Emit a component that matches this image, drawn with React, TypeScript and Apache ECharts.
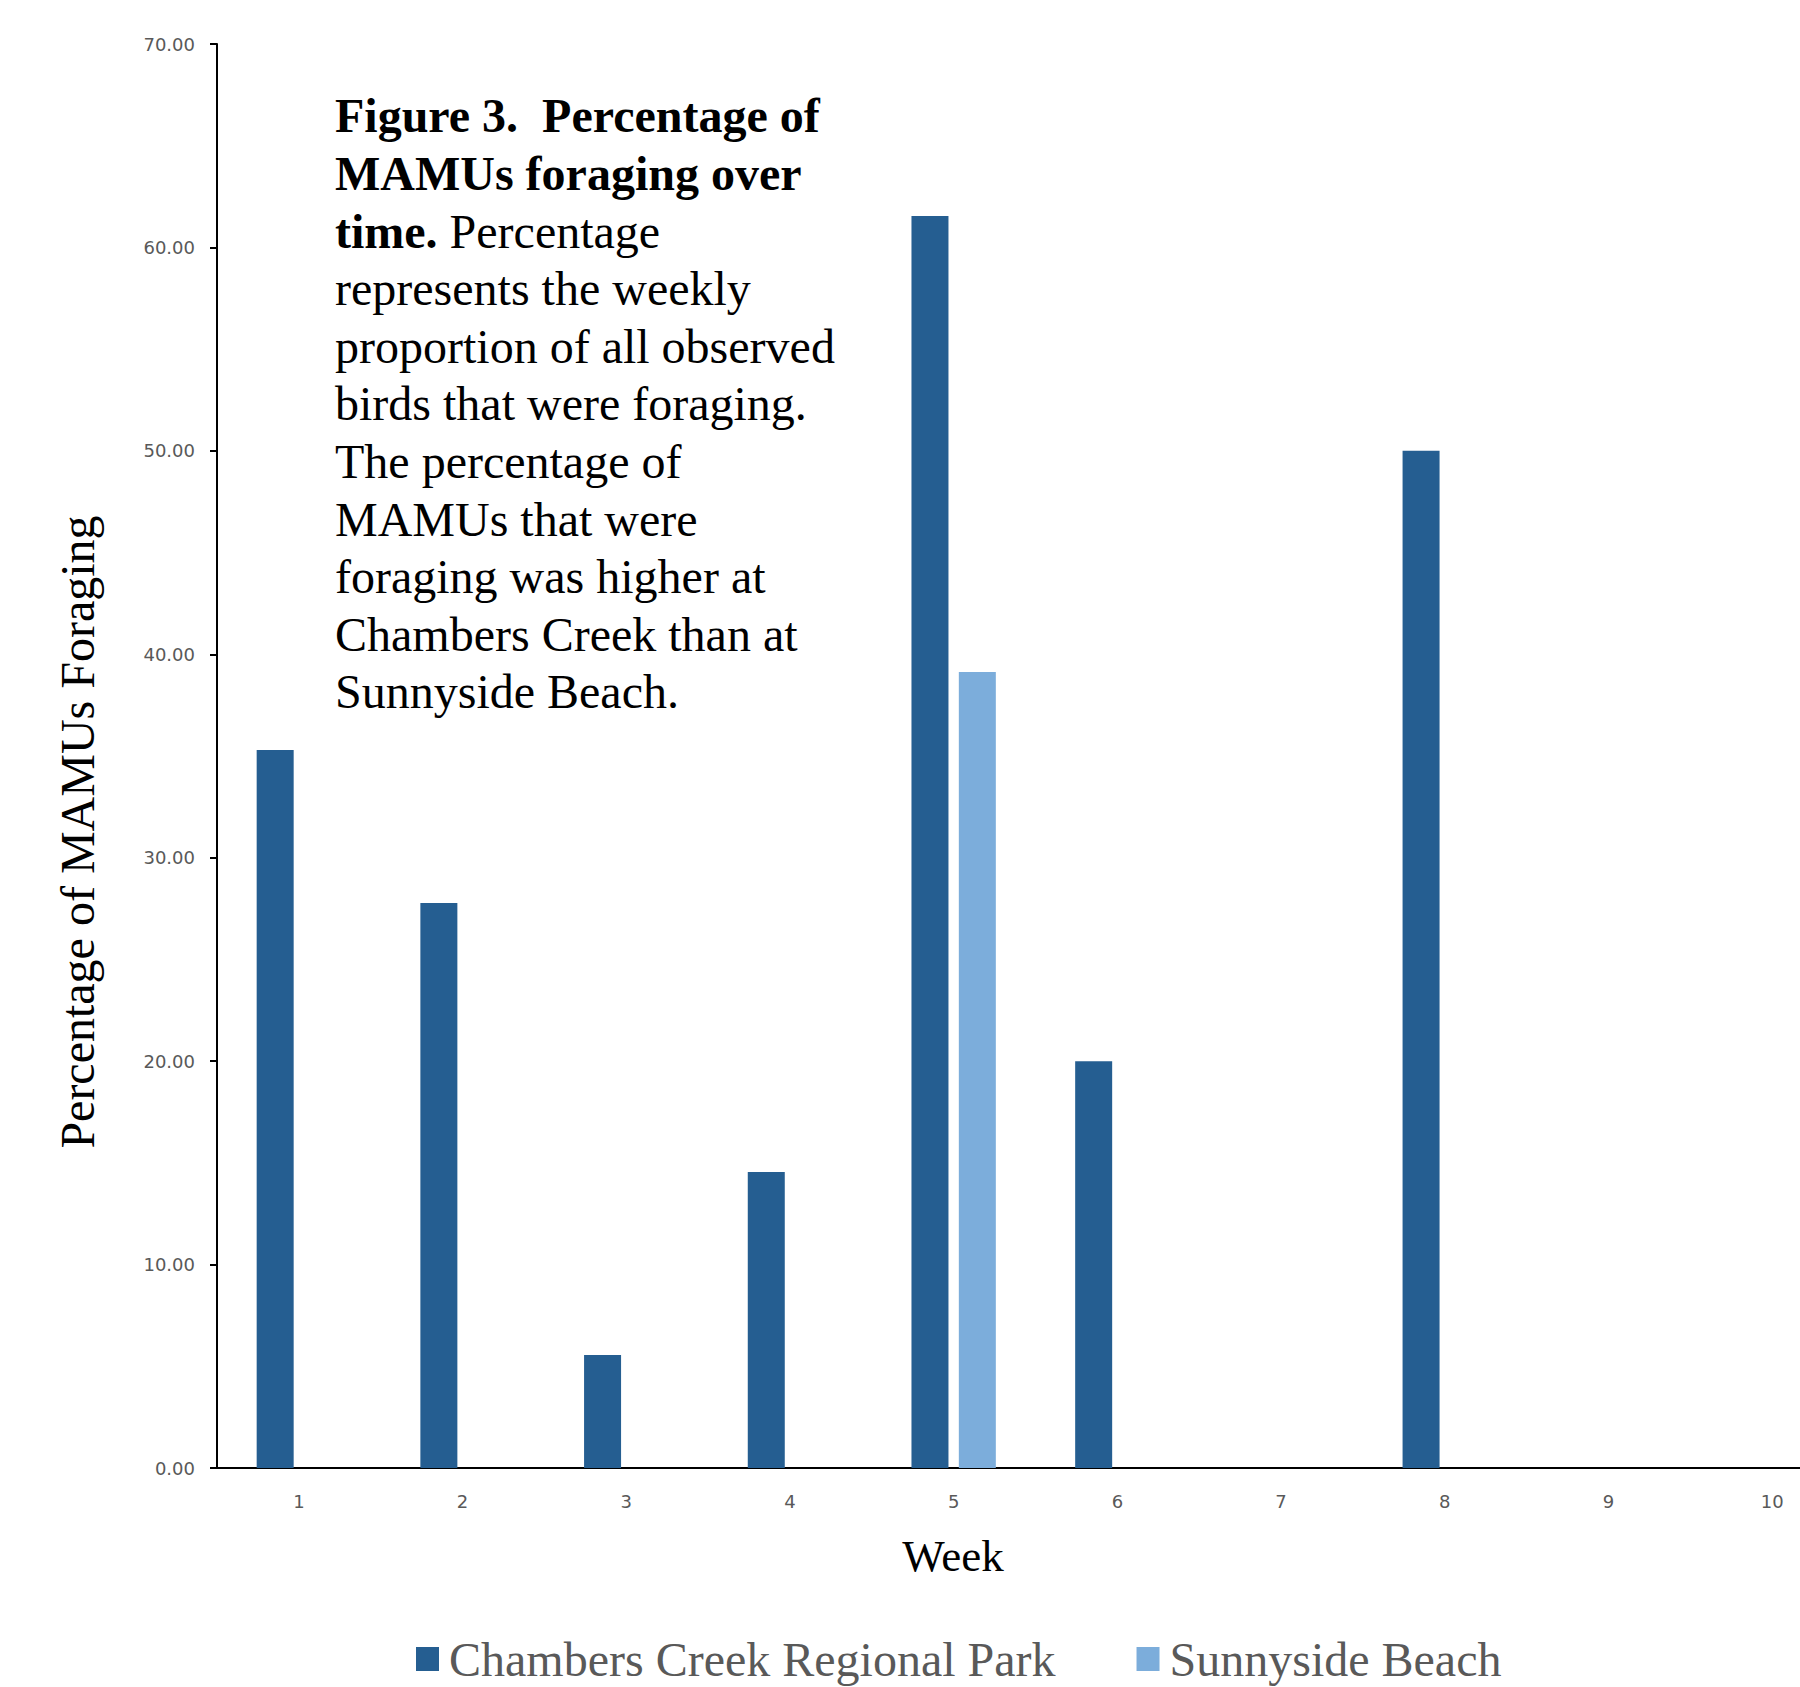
import React, { useEffect, useRef } from "react";
import * as echarts from "echarts";

const weeks = ["1", "2", "3", "4", "5", "6", "7", "8", "9", "10"];
const chambersCreek = [35.29, 27.78, 5.56, 14.55, 61.54, 20.0, 0, 50.0, 0, 0];
const sunnysideBeach = [0, 0, 0, 0, 39.13, 0, 0, 0, 0, 0];
const seriesNames = ["Chambers Creek Regional Park", "Sunnyside Beach"];
const yTicks = { min: 0, max: 70, interval: 10 };

const captionText = [
  "{b|Figure 3.  Percentage of}",
  "{b|MAMUs foraging over}",
  "{b|time.}{r| Percentage}",
  "{r|represents the weekly}",
  "{r|proportion of all observed}",
  "{r|birds that were foraging.}",
  "{r|The percentage of}",
  "{r|MAMUs that were}",
  "{r|foraging was higher at}",
  "{r|Chambers Creek than at}",
  "{r|Sunnyside Beach.}",
].join("\n");

export default function App() {
  const ref = useRef<HTMLDivElement>(null);
  useEffect(() => {
    document.body.style.margin = "0";
    const chart = echarts.init(ref.current!, null, { renderer: "svg" });
    const serif = "'Liberation Serif', 'Times New Roman', serif";
    chart.setOption({
      animation: false,
      backgroundColor: "#ffffff",
      grid: { left: 217, top: 44, width: 1637, height: 1424, containLabel: false },
      legend: {
        data: seriesNames,
        left: 411,
        top: 1630,
        itemWidth: 23,
        itemHeight: 24,
        itemGap: 81,
        icon: "rect",
        textStyle: {
          fontFamily: serif,
          fontSize: 48,
          color: "#595959",
          padding: [0, 0, 0, 5],
        },
      },
      xAxis: {
        type: "category",
        data: weeks,
        boundaryGap: true,
        axisLine: { lineStyle: { color: "#000000", width: 2 } },
        axisTick: { show: false },
        axisLabel: {
          margin: 24,
          fontFamily: "'DejaVu Sans', sans-serif",
          fontSize: 18,
          color: "#595959",
        },
        splitLine: { show: false },
      },
      yAxis: {
        type: "value",
        min: yTicks.min,
        max: yTicks.max,
        interval: yTicks.interval,
        axisLine: { show: true, lineStyle: { color: "#000000", width: 2 } },
        axisTick: { show: true, length: 7, lineStyle: { color: "#000000", width: 2 } },
        axisLabel: {
          margin: 22,
          fontFamily: "'DejaVu Sans', sans-serif",
          fontSize: 18,
          color: "#595959",
          formatter: (v: number) => v.toFixed(2),
        },
        splitLine: { show: false },
      },
      series: [
        {
          name: seriesNames[0],
          type: "bar",
          data: chambersCreek,
          barWidth: 37,
          barGap: "28%",
          itemStyle: { color: "#255e91" },
        },
        {
          name: seriesNames[1],
          type: "bar",
          data: sunnysideBeach,
          barWidth: 37,
          barGap: "28%",
          itemStyle: { color: "#7caddb" },
        },
      ],
      graphic: [
        {
          type: "text",
          left: 335,
          top: 92,
          style: {
            text: captionText,
            rich: {
              b: { fontFamily: serif, fontSize: 48, fontWeight: "bold", fill: "#000000", lineHeight: 57.6 },
              r: { fontFamily: serif, fontSize: 48, fontWeight: "normal", fill: "#000000", lineHeight: 57.6 },
            },
          },
        },
        {
          type: "text",
          x: 953,
          y: 1556,
          style: {
            text: "Week",
            fontFamily: serif,
            fontSize: 45,
            fill: "#000000",
            align: "center",
            verticalAlign: "middle",
          },
        },
        {
          type: "text",
          x: 77,
          y: 832,
          rotation: Math.PI / 2,
          style: {
            text: "Percentage of MAMUs Foraging",
            fontFamily: serif,
            fontSize: 48,
            fill: "#000000",
            align: "center",
            verticalAlign: "middle",
          },
        },
      ],
    });
    return () => chart.dispose();
  }, []);
  return (
    <div style={{ width: 1800, height: 1687, overflow: "hidden", position: "relative" }}>
      <div ref={ref} style={{ width: 1870, height: 1687 }} />
    </div>
  );
}
